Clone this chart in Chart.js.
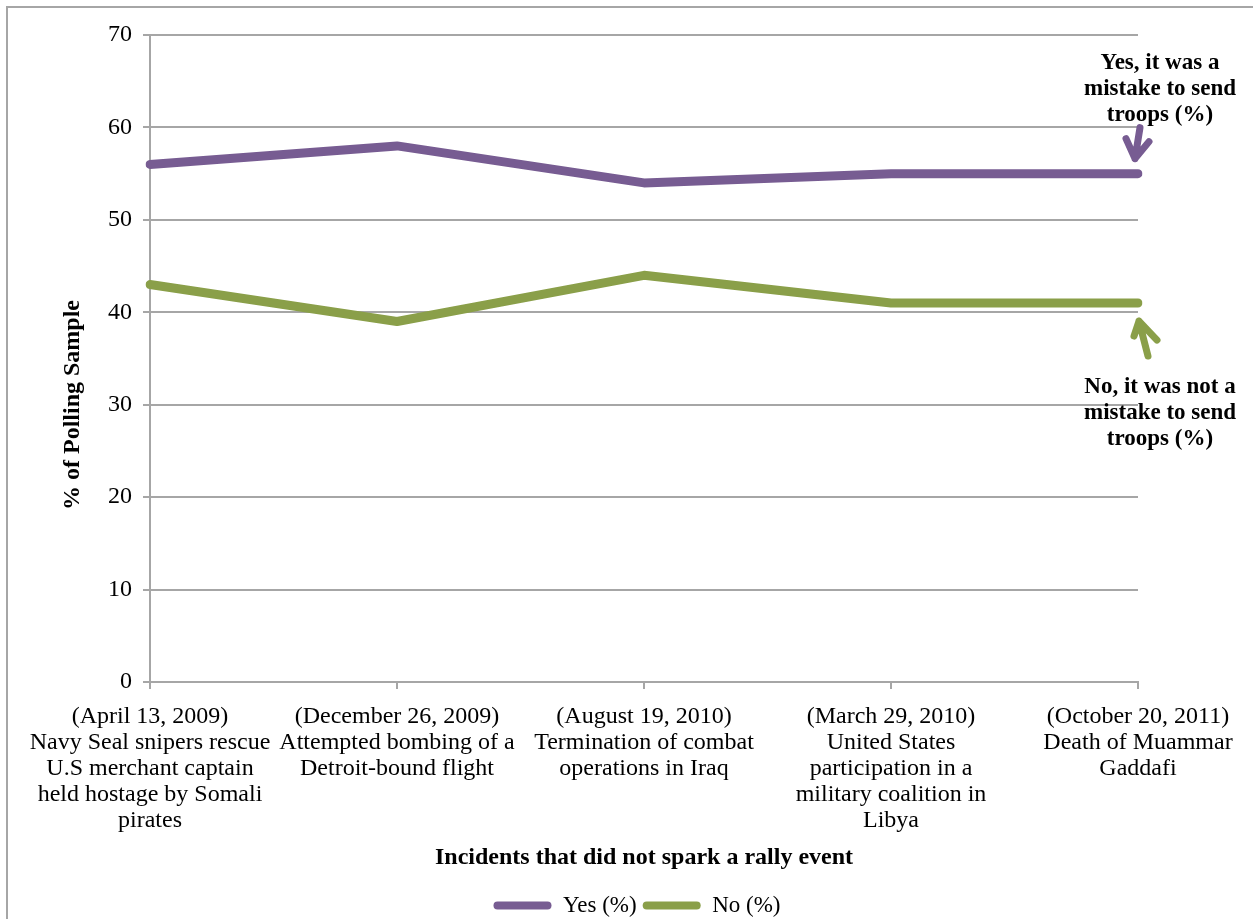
<!DOCTYPE html>
<html>
<head>
<meta charset="utf-8">
<script src="https://cdn.jsdelivr.net/npm/chart.js@4/dist/chart.umd.min.js"></script>
<style>
  html, body { margin: 0; padding: 0; background: #fff; overflow: hidden; }
  #wrap { position: relative; width: 1253px; height: 919px; }
  #frame { position: absolute; left: 6px; top: 6px; width: 2000px; height: 2000px; border: 2px solid #a6a6a6; }
  #chart { position: absolute; left: 0; top: 0; }
</style>
</head>
<body>
<div id="wrap">
  <div id="frame"></div>
  <canvas id="chart" width="1253" height="919"></canvas>
</div>
<script>
const categories = [
    ['(April 13, 2009)', 'Navy Seal snipers rescue', 'U.S merchant captain', 'held hostage by Somali', 'pirates'],
    ['(December 26, 2009)', 'Attempted bombing of a', 'Detroit-bound flight'],
    ['(August 19, 2010)', 'Termination of combat', 'operations in Iraq'],
    ['(March 29, 2010)', 'United States', 'participation in a', 'military coalition in', 'Libya'],
    ['(October 20, 2011)', 'Death of Muammar', 'Gaddafi']
];
const yesValues = [56, 58, 54, 55, 55];
const noValues = [43, 39, 44, 41, 41];
const yesNote = ['Yes, it was a', 'mistake to send', 'troops (%)'];
const noNote = ['No, it was not a', 'mistake to send', 'troops (%)'];

const serif = '"Liberation Serif", "Times New Roman", serif';
const purple = '#775c92';
const green = '#8a9f49';
const gridGray = '#a6a6a6';

// arrows + side notes + rotated y title
const notesPlugin = {
    id: 'notes',
    afterDraw(chart) {
        const ctx = chart.ctx;
        const yesPt = chart.getDatasetMeta(0).data[yesValues.length - 1];
        const noPt = chart.getDatasetMeta(1).data[noValues.length - 1];

        function arrow(color, tail, tip, w1, w2) {
            ctx.save();
            ctx.strokeStyle = color;
            ctx.lineWidth = 7;
            ctx.lineCap = 'round';
            ctx.lineJoin = 'round';
            ctx.beginPath();
            ctx.moveTo(tail[0], tail[1]);
            ctx.lineTo(tip[0], tip[1]);
            ctx.moveTo(w1[0], w1[1]);
            ctx.lineTo(tip[0], tip[1]);
            ctx.lineTo(w2[0], w2[1]);
            ctx.stroke();
            ctx.restore();
        }

        const px = yesPt.x, py = yesPt.y;
        arrow(purple, [px + 2, py - 46], [px - 3, py - 15], [px - 12, py - 35], [px + 11, py - 32]);
        const qx = noPt.x, qy = noPt.y;
        arrow(green, [qx + 10, qy + 53], [qx + 1, qy + 18], [qx - 4, qy + 33], [qx + 19, qy + 37]);

        ctx.save();
        ctx.fillStyle = '#000';
        ctx.font = 'bold 23px ' + serif;
        ctx.textAlign = 'center';
        ctx.textBaseline = 'middle';
        yesNote.forEach((t, i) => ctx.fillText(t, 1160, 63 + i * 26));
        noNote.forEach((t, i) => ctx.fillText(t, 1160, 387 + i * 26));

        ctx.font = 'bold 24px ' + serif;
        ctx.translate(73, 405);
        ctx.rotate(-Math.PI / 2);
        ctx.fillText('% of Polling Sample', 0, 0);
        ctx.restore();
    }
};

const ctx = document.getElementById('chart').getContext('2d');
new Chart(ctx, {
    type: 'line',
    data: {
        labels: categories,
        datasets: [
            {
                label: 'Yes (%)',
                data: yesValues,
                borderColor: purple,
                backgroundColor: purple,
                borderWidth: 9,
                pointRadius: 0,
                borderCapStyle: 'round',
                borderJoinStyle: 'round',
                tension: 0
            },
            {
                label: 'No (%)',
                data: noValues,
                borderColor: green,
                backgroundColor: green,
                borderWidth: 9,
                pointRadius: 0,
                borderCapStyle: 'round',
                borderJoinStyle: 'round',
                tension: 0
            }
        ]
    },
    options: {
        responsive: false,
        animation: false,
        layout: {
            padding: { top: 35, right: 0, bottom: -8, left: 21 }
        },
        plugins: {
            tooltip: { enabled: false },
            legend: {
                position: 'bottom',
                labels: {
                    color: '#000',
                    font: { family: serif, size: 23 },
                    boxWidth: 58,
                    boxHeight: 8,
                    padding: 6,
                    generateLabels(chart) {
                        return Chart.defaults.plugins.legend.labels.generateLabels(chart).map(item => {
                            item.lineWidth = 0;
                            item.borderRadius = 4;
                            return item;
                        });
                    }
                }
            }
        },
        scales: {
            x: {
                offset: false,
                grid: {
                    display: true,
                    drawOnChartArea: false,
                    color: gridGray,
                    lineWidth: 2,
                    tickLength: 7
                },
                border: { color: gridGray, width: 2 },
                ticks: {
                    color: '#000',
                    autoSkip: false,
                    maxRotation: 0,
                    padding: 15,
                    font: { family: serif, size: 24, lineHeight: 26 / 24 }
                },
                title: {
                    display: true,
                    text: 'Incidents that did not spark a rally event',
                    color: '#000',
                    font: { family: serif, size: 24, weight: 'bold' },
                    padding: { top: 0, bottom: 16 }
                },
                afterFit(scale) { scale.height = 206; }
            },
            y: {
                min: 0,
                max: 70,
                ticks: {
                    stepSize: 10,
                    color: '#000',
                    padding: 11,
                    font: { family: serif, size: 24 }
                },
                grid: {
                    color: gridGray,
                    lineWidth: 2,
                    tickLength: 7
                },
                border: { color: gridGray, width: 2 },
                afterFit(scale) { scale.width = 129; }
            },
            // empty right-hand gutter that leaves room for the notes
            gutter: {
                type: 'linear',
                position: 'right',
                min: 0,
                max: 70,
                grid: { display: false },
                border: { display: false },
                ticks: { display: false },
                afterFit(scale) { scale.width = 115; }
            }
        }
    },
    plugins: [notesPlugin]
});
</script>
</body>
</html>
